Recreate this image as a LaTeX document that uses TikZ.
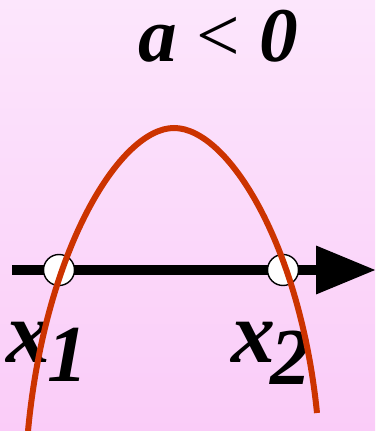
\documentclass[tikz,border=0pt]{standalone}
\usepackage{fontspec}
\setmainfont{Liberation Serif}
\usetikzlibrary{arrows.meta, positioning}
\definecolor{rosaTop}{RGB}{252,230,252}
\definecolor{rosaBot}{RGB}{250,204,248}
\definecolor{rojoCurva}{RGB}{204,51,0}
\tikzset{
  pl/axis/.style={-{Triangle[length=1.2cm,width=0.92cm]}, line width=0.2cm,
    draw=black},
  pl/curve/.style={draw=rojoCurva, line width=0.12cm},
  pl/root/.style={circle, draw=black, fill=white, minimum size=0.62cm,
    inner sep=0pt, line width=0.8pt},
  pl/title/.style={font=\fontsize{44}{44}\selectfont\bfseries\itshape,
    inner sep=0pt},
  pl/lbl/.style={font=\fontsize{50}{50}\selectfont\bfseries\itshape,
    inner sep=0pt},
  pl/sub/.style={font=\fontsize{46}{46}\selectfont\bfseries\itshape,
    inner sep=0pt}
}

\begin{document}
\begin{tikzpicture}[x=0.02cm, y=-0.02cm]
  \shade[top color=rosaTop, bottom color=rosaBot] (0,0) rectangle (375,431);
  \useasboundingbox (0,0) rectangle (375,431);

  \node[pl/title, anchor=base] (t) at (218,62) {a {\normalfont <} 0};

  \coordinate (ax0) at (12,270);
  \coordinate (ax1) at (376,270);
  \draw[pl/axis] (ax0) -- (ax1);

  \node[pl/root] (r1) at (59,270) {};
  \node[pl/root] (r2) at (283,270) {};

  % root labels: x with a large lowered digit
  \node[pl/lbl, anchor=base west] (l1) at (6,362) {x};
  \node[pl/sub, anchor=base west, xshift=-2pt] (s1) at (l1.base east)
        [yshift=-11pt] {1};
  \node[pl/lbl, anchor=base west] (l2) at (231,362) {x};
  \node[pl/sub, anchor=base west, xshift=-3pt] (s2) at (l2.base east)
        [yshift=-13pt] {2};

  \draw[pl/curve] (28,431) .. controls (45,250) and (120,128) .. (174,128)
        .. controls (228,128) and (300,245) .. (317,413);
\end{tikzpicture}
\end{document}
